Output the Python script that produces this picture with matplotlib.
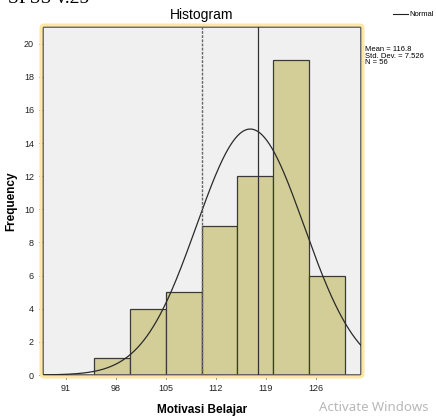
import numpy as np
import matplotlib.pyplot as plt
from matplotlib.patches import FancyBboxPatch

# histogram data
bin_edges = [95, 100, 105, 110, 115, 120, 125, 130]
counts = [1, 4, 5, 9, 12, 19, 6]
mean = 116.8
std_dev = 7.526
n = 56
dashed_line_x = 110
solid_line_x = 117.9
x_ticks = [91, 98, 105, 112, 119, 126]
y_ticks = [0, 2, 4, 6, 8, 10, 12, 14, 16, 18, 20]

plt.rcParams['font.family'] = ['Liberation Sans', 'DejaVu Sans']

fig = plt.figure(figsize=(4.36, 4.19), dpi=100)
ax = fig.add_axes([43 / 436, 1 - 375 / 419, (361 - 43) / 436, (375 - 27) / 419])

ax.set_facecolor('#f0f0f0')
widths = np.diff(bin_edges)
ax.bar(bin_edges[:-1], counts, width=widths, align='edge',
       color='#d3ce97', edgecolor='#3a3a3a', linewidth=0.9, zorder=2)

# normal curve scaled to the histogram
xs = np.linspace(87.8, 132.3, 400)
bw = bin_edges[1] - bin_edges[0]
ys = n * bw / (std_dev * np.sqrt(2 * np.pi)) * np.exp(-0.5 * ((xs - mean) / std_dev) ** 2)
ax.plot(xs, ys, color='#2a2a2a', linewidth=0.9, zorder=3)

ax.axvline(dashed_line_x, color='#666666', linestyle=(0, (2, 1)), linewidth=1.0, zorder=3)
ax.axvline(solid_line_x, color='#333333', linewidth=0.9, zorder=3)

ax.set_xlim(87.8, 132.3)
ax.set_ylim(0, 21.0)
ax.set_xticks(x_ticks)
ax.set_yticks(y_ticks)
ax.tick_params(labelsize=6.5, length=3, width=0.6, colors='#222222', direction='out')
for s in ax.spines.values():
    s.set_color('#555555')
    s.set_linewidth(1.2)

ax.set_title('Histogram', fontsize=10, pad=6, fontweight='medium')
ax.set_xlabel('Motivasi Belajar', fontsize=8.5, fontweight='bold', labelpad=8)
ax.set_ylabel('Frequency', fontsize=8.5, fontweight='bold', labelpad=5)

# yellow rounded frame round the plot area
frame = FancyBboxPatch((41 / 436, 1 - 377 / 419), (363 - 41) / 436, (377 - 25) / 419,
                       boxstyle='round,pad=0,rounding_size=0.008',
                       transform=fig.transFigure, facecolor='none',
                       edgecolor='#fde7a2', linewidth=2.2, zorder=0)
fig.patches.append(frame)

# legend and stats box
fig.lines.append(plt.Line2D([393 / 436, 408 / 436], [1 - 14 / 419, 1 - 14 / 419],
                            transform=fig.transFigure, color='#222222', linewidth=0.8))
fig.text(409 / 436, 1 - 14 / 419, 'Normal', fontsize=5.5, va='center')
fig.text(365 / 436, 1 - 56 / 419, 'Mean = 116.8\nStd. Dev. = 7.526\nN = 56',
         fontsize=5.5, va='center', linespacing=0.95)

# bits of the screenshot around the chart (the top line is cut by the crop)
fig.text(8 / 436, 1 - 3 / 419, 'SPSS v.25', fontsize=14, family='Liberation Serif',
         va='baseline')
fig.text(319 / 436, 1 - 407 / 419, 'Activate Windows', fontsize=9.5, color='#b8b8b8',
         va='center', family=['Noto Sans', 'DejaVu Sans'])

fig.savefig('out.png', dpi=100)
